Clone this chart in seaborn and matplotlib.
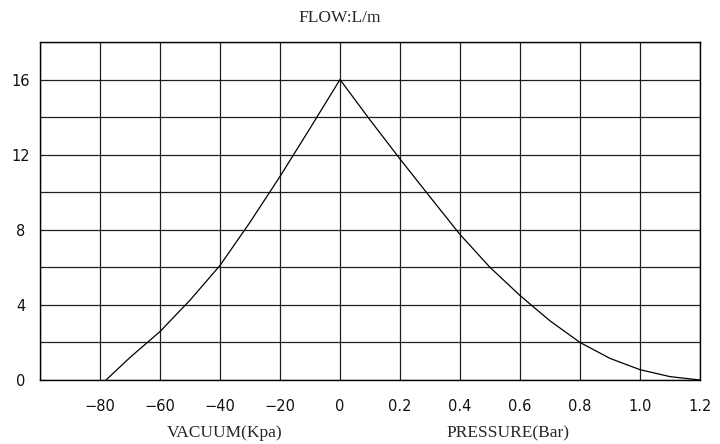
import numpy as np
import pandas as pd
import seaborn as sns
import matplotlib.pyplot as plt

# Flow curve
vacuum_kpa = [-78, -70, -60, -50, -40, -30, -20, -10, 0]
vacuum_flow = [0, 1.2, 2.58, 4.25, 6.1, 8.4, 10.84, 13.4, 16]
pressure_bar = [0, 0.1, 0.2, 0.3, 0.4, 0.5, 0.6, 0.7, 0.8, 0.9, 1.0, 1.1, 1.2]
pressure_flow = [16, 13.85, 11.77, 9.75, 7.75, 6.0, 4.5, 3.15, 2.0, 1.15,
                 0.55, 0.18, 0]

x_tick_labels = ['\u221280', '\u221260', '\u221240', '\u221220', '0',
                 '0.2', '0.4', '0.6', '0.8', '1.0', '1.2']
y_tick_values = [0, 4, 8, 12, 16]

sns.set_style('white')
plt.rcParams['font.family'] = ['DejaVu Sans']

# Shared x axis: vacuum on the left half, pressure on the right half
vac_pos = [5 + v / 20 for v in vacuum_kpa]
pres_pos = [5 + p / 0.2 for p in pressure_bar]
curve = pd.DataFrame({'pos': vac_pos + pres_pos[1:],
                      'flow': vacuum_flow + pressure_flow[1:]})

fig = plt.figure(figsize=(7.2, 4.44), dpi=100)
ax = fig.add_axes([40 / 720, 1 - 380 / 444, 660 / 720, 338 / 444])

sns.lineplot(data=curve, x='pos', y='flow', sort=False, estimator=None,
             color='black', lw=0.9, ax=ax)

ax.set_xlim(0, 11)
ax.set_ylim(0, 18)
ax.set_xticks(range(0, 12))
ax.set_xticklabels([''] + x_tick_labels)
yt = list(range(0, 19, 2))
ax.set_yticks(yt)
ax.set_yticklabels([str(v) if v in y_tick_values else '' for v in yt])
ax.grid(True, color='#202020', lw=0.9)
for s in ax.spines.values():
    s.set_color('black')
    s.set_linewidth(1.0)
ax.tick_params(length=0, labelsize=10.5, colors='#111111')
ax.tick_params(axis='x', pad=13.5)
ax.tick_params(axis='y', pad=13.7)
for lab in ax.get_yticklabels():
    lab.set_horizontalalignment('center')
ax.set_xlabel('')
ax.set_ylabel('')

serif = 'Liberation Serif'
fig.text(340 / 720, 1 - 18 / 444, 'FLOW:L/m', ha='center', va='center',
         family=serif, fontsize=12.5)
fig.text(225 / 720, 1 - 433 / 444, 'VACUUM(Kpa)', ha='center', va='center',
         family=serif, fontsize=12.5)
fig.text(508 / 720, 1 - 433 / 444, 'PRESSURE(Bar)', ha='center', va='center',
         family=serif, fontsize=12.5)

fig.savefig('out.png', dpi=100)
